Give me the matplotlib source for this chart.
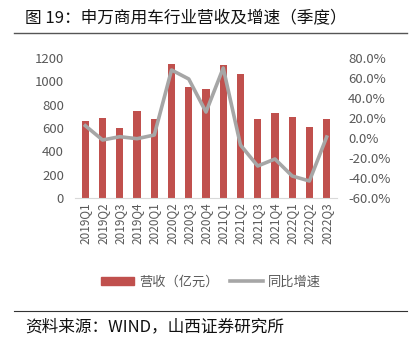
import matplotlib
matplotlib.use('Agg')
import matplotlib.pyplot as plt
from matplotlib.lines import Line2D
import numpy as np

plt.rcParams['font.family'] = ['Noto Sans CJK SC', 'DejaVu Sans']

quarters = ['2019Q1', '2019Q2', '2019Q3', '2019Q4', '2020Q1', '2020Q2', '2020Q3', '2020Q4',
            '2021Q1', '2021Q2', '2021Q3', '2021Q4', '2022Q1', '2022Q2', '2022Q3']
revenue = [660, 686, 600, 748, 677, 1148, 949, 934, 1140, 1063, 680, 726, 694, 606, 677]
growth = [12.3, -2.0, 1.3, -0.7, 3.0, 68.0, 59.0, 26.0, 70.0, -7.0, -28.0, -21.0, -38.0, -43.0, 1.0]

bar_color = '#C0504D'
line_color = '#A6A6A6'
txt = '#595959'

fig = plt.figure(figsize=(4.12, 3.44), dpi=100)
ax = fig.add_axes([75 / 412, 1 - 198 / 344, 262 / 412, 140 / 344])
x = np.arange(len(quarters))
ax.bar(x, revenue, width=0.42, color=bar_color, zorder=2)
ax.set_ylim(0, 1200)
ax.set_yticks(range(0, 1201, 200))
ax.set_xlim(-0.6, len(quarters) - 0.4)
ax.set_xticks(x)
ax.set_xticklabels(quarters, rotation=90, fontsize=8.5, color=txt)
ax.tick_params(axis='y', labelsize=9.5, colors=txt, length=0, pad=8)
ax.tick_params(axis='x', length=0, pad=3)
for s in ['top', 'right', 'left']:
    ax.spines[s].set_visible(False)
ax.spines['bottom'].set_color('#D9D9D9')

ax2 = ax.twinx()
ax2.plot(x, growth, color=line_color, lw=2.6, zorder=3)
ax2.set_ylim(-60, 80)
ax2.set_yticks(range(-60, 81, 20))
ax2.set_yticklabels(['%.1f%%' % v for v in range(-60, 81, 20)])
ax2.tick_params(axis='y', labelsize=9.5, colors=txt, length=0, pad=8)
for s in ['top', 'right', 'left', 'bottom']:
    ax2.spines[s].set_visible(False)

handles = [plt.Rectangle((0, 0), 1, 1, color=bar_color),
           Line2D([0], [0], color=line_color, lw=2.6)]
fig.legend(handles, ['营收（亿元）', '同比增速'], loc='center', bbox_to_anchor=(211 / 412, 1 - 282 / 344),
           ncol=2, frameon=False, fontsize=9.5, handlelength=2.5, handleheight=0.6,
           handletextpad=0.4, columnspacing=0.8, labelcolor=txt)

fig.text(25 / 412, 1 - 18 / 344, '图 19：申万商用车行业营收及增速（季度）', fontsize=12, va='center', color='#111111')
fig.add_artist(Line2D([14 / 412, 407 / 412], [1 - 33 / 344, 1 - 33 / 344], color='#555555', lw=1))
fig.add_artist(Line2D([14 / 412, 407 / 412], [1 - 311 / 344, 1 - 311 / 344], color='#333333', lw=0.8))
fig.text(25 / 412, 1 - 327 / 344, '资料来源：WIND，山西证券研究所', fontsize=12, va='center', color='#111111')

fig.savefig('out.png', dpi=100)
